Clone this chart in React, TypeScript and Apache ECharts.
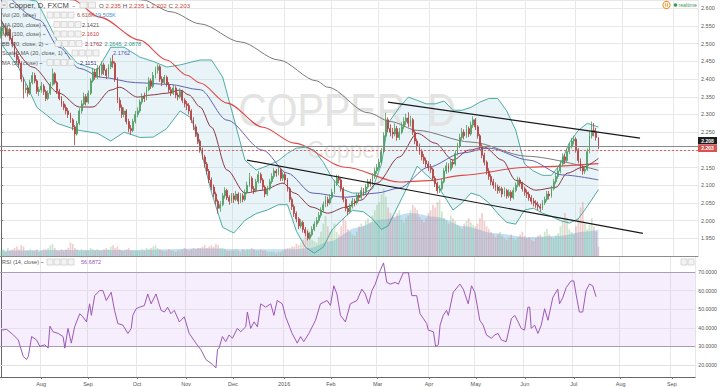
import React, { useEffect, useRef } from 'react';
import * as echarts from 'echarts';

type Candle = [number, number, number, number]; // open, close, low, high

// ---------- price data (daily candles) ----------
const jul15: Candle[] = [
  [2.525,2.535,2.515,2.548],[2.535,2.545,2.528,2.556],[2.545,2.525,2.518,2.552],[2.525,2.540,2.520,2.550],
  [2.540,2.515,2.508,2.545],[2.515,2.500,2.490,2.522],[2.500,2.470,2.462,2.505],[2.470,2.455,2.445,2.480],
  [2.455,2.445,2.432,2.465],[2.445,2.400,2.392,2.450],[2.400,2.370,2.345,2.405],[2.370,2.375,2.360,2.388],
  [2.375,2.360,2.350,2.382],[2.360,2.390,2.355,2.398],[2.390,2.410,2.385,2.420],[2.410,2.395,2.388,2.418],
  [2.395,2.365,2.358,2.400],[2.365,2.370,2.352,2.378],
];
const aug15: Candle[] = [
  [2.370,2.380,2.362,2.392],[2.380,2.365,2.355,2.386],[2.365,2.345,2.338,2.370],[2.345,2.360,2.340,2.368],
  [2.360,2.385,2.355,2.392],[2.385,2.415,2.380,2.430],[2.415,2.390,2.385,2.420],[2.390,2.365,2.358,2.395],
  [2.365,2.345,2.340,2.372],[2.345,2.330,2.322,2.352],[2.330,2.320,2.312,2.338],[2.320,2.310,2.300,2.328],
  [2.310,2.300,2.290,2.318],[2.300,2.285,2.276,2.305],[2.285,2.265,2.255,2.290],[2.265,2.245,2.213,2.270],
  [2.245,2.275,2.240,2.282],[2.275,2.310,2.270,2.318],[2.310,2.330,2.302,2.340],[2.330,2.350,2.325,2.362],
  [2.350,2.335,2.325,2.358],
];
const sep15: Candle[] = [
  [2.335,2.360,2.330,2.368],[2.360,2.395,2.355,2.402],[2.395,2.420,2.390,2.432],[2.420,2.405,2.398,2.428],
  [2.405,2.430,2.400,2.440],[2.430,2.415,2.405,2.438],[2.415,2.440,2.410,2.450],[2.440,2.425,2.412,2.446],
  [2.425,2.410,2.400,2.430],[2.410,2.435,2.405,2.442],[2.435,2.450,2.428,2.460],[2.450,2.445,2.432,2.468],
  [2.445,2.400,2.392,2.450],[2.400,2.340,2.332,2.405],[2.340,2.320,2.310,2.348],[2.320,2.300,2.290,2.328],
  [2.300,2.310,2.292,2.320],[2.310,2.280,2.272,2.315],[2.280,2.260,2.250,2.288],[2.260,2.255,2.243,2.270],
  [2.255,2.280,2.250,2.288],[2.280,2.300,2.274,2.310],
];
const oct15: Candle[] = [
  [2.300,2.310,2.292,2.320],[2.310,2.335,2.305,2.342],[2.335,2.350,2.328,2.360],[2.350,2.345,2.335,2.362],
  [2.345,2.370,2.340,2.378],[2.370,2.395,2.365,2.405],[2.395,2.380,2.372,2.402],[2.380,2.410,2.375,2.420],
  [2.410,2.425,2.402,2.435],[2.425,2.435,2.415,2.442],[2.435,2.400,2.392,2.440],[2.400,2.390,2.380,2.408],
  [2.390,2.405,2.385,2.412],[2.405,2.385,2.378,2.410],[2.385,2.370,2.362,2.392],[2.370,2.360,2.352,2.378],
  [2.360,2.375,2.355,2.384],[2.375,2.355,2.346,2.380],[2.355,2.350,2.340,2.362],[2.350,2.365,2.345,2.374],
  [2.365,2.340,2.332,2.370],[2.340,2.330,2.320,2.346],
];
const nov15: Candle[] = [
  [2.330,2.325,2.312,2.338],[2.325,2.310,2.300,2.332],[2.310,2.285,2.276,2.315],[2.285,2.265,2.256,2.292],
  [2.265,2.245,2.236,2.272],[2.245,2.225,2.216,2.250],[2.225,2.200,2.192,2.230],[2.200,2.180,2.172,2.206],
  [2.180,2.160,2.150,2.186],[2.160,2.140,2.130,2.166],[2.140,2.115,2.106,2.146],[2.115,2.095,2.086,2.122],
  [2.095,2.075,2.066,2.102],[2.075,2.055,2.045,2.082],[2.055,2.035,2.020,2.060],[2.035,2.045,2.025,2.055],
  [2.045,2.070,2.040,2.078],[2.070,2.085,2.062,2.094],[2.085,2.065,2.058,2.090],[2.065,2.055,2.045,2.072],
  [2.055,2.070,2.050,2.078],
];
const dec15: Candle[] = [
  [2.070,2.060,2.050,2.078],[2.060,2.075,2.055,2.084],[2.075,2.055,2.046,2.080],[2.055,2.070,2.050,2.078],
  [2.070,2.060,2.052,2.077],[2.060,2.080,2.055,2.088],[2.080,2.100,2.075,2.110],[2.100,2.120,2.095,2.135],
  [2.120,2.090,2.082,2.125],[2.090,2.085,2.075,2.098],[2.085,2.110,2.080,2.118],[2.110,2.130,2.105,2.140],
  [2.130,2.115,2.106,2.136],[2.115,2.095,2.086,2.120],[2.095,2.075,2.066,2.100],[2.075,2.090,2.070,2.098],
  [2.090,2.110,2.085,2.118],[2.110,2.125,2.104,2.134],[2.125,2.140,2.118,2.148],[2.140,2.135,2.124,2.146],
  [2.135,2.145,2.128,2.152],[2.145,2.120,2.112,2.150],[2.120,2.130,2.112,2.138],
];
const jan16: Candle[] = [
  [2.130,2.115,2.104,2.136],[2.115,2.090,2.082,2.120],[2.090,2.060,2.052,2.095],[2.060,2.040,2.030,2.066],
  [2.040,2.020,2.010,2.046],[2.020,2.005,1.995,2.026],[2.005,1.985,1.976,2.010],[1.985,1.995,1.978,2.004],
  [1.995,1.975,1.966,2.000],[1.975,1.965,1.955,1.982],[1.965,1.950,1.944,1.972],[1.950,1.960,1.946,1.968],
  [1.960,1.975,1.955,1.984],[1.975,1.990,1.970,1.998],[1.990,2.000,1.982,2.010],[2.000,2.015,1.994,2.024],
  [2.015,2.030,2.008,2.038],[2.030,2.045,2.024,2.054],[2.045,2.060,2.038,2.070],[2.060,2.050,2.040,2.068],
  [2.050,2.065,2.045,2.074],
];
const feb16: Candle[] = [
  [2.065,2.080,2.060,2.090],[2.080,2.105,2.075,2.115],[2.105,2.120,2.098,2.130],[2.120,2.115,2.105,2.128],
  [2.115,2.090,2.082,2.120],[2.090,2.060,2.052,2.095],[2.060,2.035,2.026,2.066],[2.035,2.025,2.015,2.042],
  [2.025,2.040,2.020,2.048],[2.040,2.055,2.034,2.064],[2.055,2.050,2.040,2.062],[2.050,2.070,2.045,2.078],
  [2.070,2.065,2.056,2.078],[2.065,2.085,2.060,2.094],[2.085,2.080,2.070,2.092],[2.080,2.095,2.074,2.104],
  [2.095,2.110,2.090,2.118],[2.110,2.105,2.096,2.118],[2.105,2.125,2.100,2.134],[2.125,2.140,2.118,2.150],
  [2.140,2.150,2.132,2.160],
];
const mar16: Candle[] = [
  [2.150,2.165,2.144,2.175],[2.165,2.195,2.160,2.205],[2.195,2.240,2.190,2.250],[2.240,2.285,2.235,2.305],
  [2.285,2.260,2.250,2.292],[2.260,2.250,2.238,2.272],[2.250,2.245,2.232,2.262],[2.245,2.260,2.238,2.275],
  [2.260,2.235,2.226,2.268],[2.235,2.250,2.228,2.262],[2.250,2.265,2.244,2.278],[2.265,2.280,2.258,2.292],
  [2.280,2.290,2.270,2.302],[2.290,2.275,2.264,2.306],[2.275,2.285,2.266,2.296],[2.285,2.250,2.242,2.290],
  [2.250,2.225,2.216,2.256],[2.225,2.210,2.200,2.232],[2.210,2.195,2.186,2.218],[2.195,2.180,2.170,2.202],
  [2.180,2.170,2.160,2.188],[2.170,2.160,2.150,2.178],[2.160,2.150,2.140,2.168],
];
const apr16: Candle[] = [
  [2.150,2.145,2.134,2.160],[2.145,2.120,2.112,2.150],[2.120,2.105,2.095,2.126],[2.105,2.085,2.076,2.110],
  [2.085,2.090,2.078,2.100],[2.090,2.110,2.085,2.118],[2.110,2.140,2.105,2.148],[2.140,2.155,2.132,2.165],
  [2.155,2.145,2.136,2.162],[2.145,2.165,2.140,2.174],[2.165,2.160,2.150,2.172],[2.160,2.190,2.155,2.198],
  [2.190,2.210,2.184,2.220],[2.210,2.235,2.205,2.245],[2.235,2.250,2.228,2.262],[2.250,2.240,2.230,2.258],
  [2.240,2.260,2.234,2.270],[2.260,2.245,2.236,2.266],[2.245,2.270,2.240,2.280],[2.270,2.285,2.262,2.295],
  [2.285,2.265,2.256,2.290],
];
const may16: Candle[] = [
  [2.265,2.240,2.232,2.270],[2.240,2.210,2.202,2.245],[2.210,2.185,2.176,2.216],[2.185,2.165,2.156,2.192],
  [2.165,2.140,2.130,2.170],[2.140,2.125,2.115,2.148],[2.125,2.110,2.100,2.132],[2.110,2.100,2.090,2.118],
  [2.100,2.095,2.084,2.108],[2.095,2.085,2.076,2.102],[2.085,2.090,2.078,2.098],[2.090,2.075,2.066,2.096],
  [2.075,2.085,2.068,2.094],[2.085,2.070,2.062,2.090],[2.070,2.080,2.064,2.088],[2.080,2.065,2.056,2.086],
  [2.065,2.085,2.060,2.094],[2.085,2.100,2.080,2.108],[2.100,2.115,2.094,2.124],[2.115,2.105,2.096,2.122],
  [2.105,2.090,2.082,2.110],[2.090,2.080,2.070,2.096],
];
const jun16: Candle[] = [
  [2.080,2.075,2.064,2.088],[2.075,2.065,2.056,2.082],[2.065,2.055,2.046,2.072],[2.055,2.050,2.040,2.064],
  [2.050,2.045,2.036,2.058],[2.045,2.040,2.030,2.054],[2.040,2.035,2.025,2.048],[2.035,2.050,2.030,2.058],
  [2.050,2.060,2.044,2.068],[2.060,2.075,2.054,2.084],[2.075,2.070,2.060,2.084],[2.070,2.090,2.065,2.098],
  [2.090,2.110,2.085,2.118],[2.110,2.125,2.104,2.134],[2.125,2.140,2.118,2.150],[2.140,2.160,2.134,2.170],
  [2.160,2.180,2.154,2.190],[2.180,2.170,2.160,2.188],[2.170,2.195,2.165,2.204],[2.195,2.210,2.188,2.220],
  [2.210,2.225,2.204,2.234],[2.225,2.230,2.215,2.240],
];
const jul16: Candle[] = [
  [2.230,2.200,2.192,2.236],[2.200,2.170,2.162,2.205],[2.170,2.150,2.140,2.176],[2.150,2.140,2.130,2.156],
  [2.140,2.145,2.132,2.154],[2.145,2.195,2.140,2.204],[2.195,2.240,2.190,2.252],[2.240,2.255,2.232,2.280],
  [2.255,2.250,2.238,2.276],[2.250,2.235,2.226,2.262],[2.235,2.203,2.202,2.235],
];
const candles: Candle[] = [
  ...jul15, ...aug15, ...sep15, ...oct15, ...nov15, ...dec15,
  ...jan16, ...feb16, ...mar16, ...apr16, ...may16, ...jun16, ...jul16,
];

// ---------- volume (thousands) ----------
const volJul15 = [4,5,3,6,4,5,6,7,5,8,7,4,4,5,4,4,5,3];
const volAug15 = [4,5,5,6,8,9,6,4,4,5,4,5,6,10,9,6,5,4,5,4,4];
const volSep15 = [4,6,5,4,5,4,4,5,6,5,7,8,6,7,5,4,4,5,6,4,4,4];
const volOct15 = [4,4,5,4,6,5,6,7,8,6,5,4,4,4,5,4,4,3,4,4,5,6];
const volNov15 = [5,4,5,6,5,6,6,7,8,6,7,8,7,9,8,6,6,5,4,4,4];
const volDec15 = [4,5,4,3,5,4,5,5,6,5,4,4,5,4,4,3,3,3,3,2,3,3,4];
const volJan16 = [5,6,6,7,7,9,8,10,12,14,20,18,12,11,10,14,18,24,30,22,18];
const volFeb16 = [20,24,18,16,22,28,26,20,18,16,15,18,22,24,22,26,28,25,30,34,38];
const volMar16 = [40,46,50,44,36,32,30,28,32,34,27,25,28,30,34,38,36,34,29,27,25,28,32];
const volApr16 = [34,38,36,40,42,33,28,26,24,30,28,26,23,22,20,24,26,28,25,23,22];
const volMay16 = [24,28,32,26,22,20,18,16,14,16,18,15,13,12,14,16,13,12,14,16,18,15];
const volJun16 = [13,14,12,11,13,15,16,14,18,20,16,14,13,15,17,22,26,32,28,20,18,16];
const volJul16 = [22,28,36,40,24,20,23,28,22,18,7];
const volumes = [
  ...volJul15, ...volAug15, ...volSep15, ...volOct15, ...volNov15, ...volDec15,
  ...volJan16, ...volFeb16, ...volMar16, ...volApr16, ...volMay16, ...volJun16, ...volJul16,
];
const volMA: number[][] = [[0,4],[30,4.5],[60,4.5],[90,5.5],[110,5],[130,5],[138,6],[147,11],[159,21],[170,27],[183,32],[195,29],[207,22],[220,17],[235,14],[250,15],[260,18],[267,19.5]];

// ---------- indicators (bar index, value) ----------
const ma200: number[][] = [[40,2.70],[63,2.624],[76,2.59],[89,2.556],[107,2.505],[124,2.454],[141,2.395],[146,2.377],[164,2.305],[174,2.28],[186,2.255],[210,2.222],[235,2.182],[267,2.142]];
const ma100: number[][] = [[20,2.66],[32,2.624],[44,2.575],[62,2.51],[74,2.454],[83,2.411],[89,2.389],[101,2.332],[117,2.264],[131,2.219],[154,2.151],[178,2.109],[191,2.113],[206,2.128],[235,2.151],[267,2.161]];
const ma50: number[][] = [[0,2.66],[17,2.567],[26,2.49],[35,2.43],[45,2.405],[60,2.39],[75,2.385],[89,2.37],[101,2.284],[117,2.199],[128,2.134],[139,2.078],[154,2.066],[168,2.078],[178,2.092],[191,2.151],[206,2.191],[218,2.205],[236,2.171],[251,2.129],[267,2.115]];
const ma20: number[][] = [[0,2.567],[14,2.434],[26,2.36],[35,2.321],[41,2.321],[49,2.369],[53,2.377],[61,2.349],[67,2.355],[74,2.36],[80,2.369],[84,2.355],[89,2.321],[94,2.264],[101,2.143],[109,2.078],[117,2.086],[126,2.106],[131,2.078],[139,2.038],[146,2.021],[154,2.038],[161,2.058],[168,2.106],[178,2.18],[186,2.247],[194,2.219],[202,2.171],[209,2.199],[216,2.208],[224,2.171],[230,2.114],[239,2.086],[248,2.094],[253,2.134],[260,2.151],[267,2.176]];
const bbIdx = [0,8,16,25,34,43,49,55,62,68,74,80,85,89,94,99,104,109,114,119,124,128,132,136,140,144,148,152,157,162,166,170,173,178,182,186,190,194,198,202,206,210,214,218,222,226,230,234,238,242,246,250,254,258,262,267];
const bbUpper = [2.64,2.63,2.62,2.51,2.445,2.425,2.49,2.49,2.462,2.45,2.434,2.44,2.448,2.454,2.454,2.406,2.29,2.171,2.143,2.155,2.17,2.19,2.205,2.207,2.199,2.165,2.12,2.09,2.078,2.078,2.09,2.16,2.275,2.32,2.349,2.34,2.33,2.33,2.338,2.312,2.312,2.32,2.335,2.345,2.345,2.31,2.256,2.16,2.14,2.128,2.128,2.16,2.22,2.255,2.275,2.2645];
const bbLower = [2.50,2.43,2.32,2.275,2.256,2.247,2.225,2.25,2.235,2.236,2.26,2.31,2.29,2.208,2.08,1.981,1.965,2.001,2.02,2.03,2.045,2.045,1.97,1.925,1.908,1.925,1.975,2.0,2.029,2.025,2.005,1.975,1.985,2.049,2.10,2.154,2.13,2.108,2.07,2.03,2.05,2.078,2.07,2.05,2.02,1.995,1.99,2.03,2.035,2.021,2.012,2.0,1.993,2.005,2.04,2.0878];

const rsi: number[][] = [[0,38.8],[2.5,39.2],[5.5,36.2],[7.7,33.5],[9.9,24.7],[11.4,23.0],[12.2,24.7],[13.7,35.3],[15.9,33.5],[17.4,30.0],[19.6,30.9],[21.1,29.1],[21.9,40.9],[23.3,37.9],[25.6,37.0],[27.8,35.3],[28.6,29.1],[30.0,39.7],[31.5,31.8],[33.0,40.6],[35.3,47.6],[36.7,45.9],[38.3,43.2],[39.7,52.9],[40.5,46.7],[42.0,57.3],[44.2,60.0],[45.7,60.0],[47.2,54.7],[49.4,59.1],[50.9,49.4],[52.4,42.3],[54.6,41.5],[56.9,37.0],[58.4,39.7],[59.1,46.7],[60.6,50.3],[62.1,51.1],[64.3,52.0],[65.8,58.2],[67.3,52.9],[69.5,58.2],[71.8,49.4],[73.3,48.5],[74.7,51.1],[76.2,47.6],[77.7,49.4],[80.0,43.2],[82.2,45.9],[84.4,37.0],[87.4,31.8],[89.7,28.2],[91.9,23.0],[94.9,20.3],[96.4,18.5],[97.1,28.2],[97.8,29.1],[99.3,35.3],[100.8,32.6],[102.3,36.2],[103.8,34.4],[106.0,39.7],[107.5,37.9],[109.8,40.6],[110.5,48.5],[112.0,39.7],[113.5,43.2],[115.0,40.6],[116.5,52.9],[118.7,51.1],[121.0,52.9],[122.4,46.7],[123.9,54.7],[126.2,52.9],[127.7,45.9],[130.6,37.0],[132.9,31.8],[134.4,35.3],[135.8,32.6],[138.1,37.0],[141.1,44.1],[143.3,52.9],[146.3,54.7],[147.8,52.0],[149.3,62.6],[150.7,58.2],[152.3,46.7],[154.5,43.2],[156.7,52.9],[159.7,54.7],[161.9,60.8],[163.4,58.2],[164.9,52.9],[166.4,60.0],[167.9,63.5],[169.4,68.8],[171.6,74.9],[173.1,64.4],[174.6,63.5],[176.8,64.4],[178.3,63.5],[180.5,69.6],[182.8,69.6],[184.3,57.3],[186.5,57.3],[188.0,47.6],[189.5,45.0],[191.0,42.3],[191.7,38.8],[194.0,37.9],[195.0,30.0],[196.2,30.9],[197.0,41.5],[198.4,46.7],[199.9,49.4],[200.7,46.7],[202.9,59.1],[205.9,63.5],[207.4,60.8],[209.6,52.9],[211.1,62.6],[212.6,59.1],[214.8,44.1],[216.3,41.5],[217.8,36.2],[220.0,34.4],[221.5,36.2],[223.0,37.0],[224.5,33.5],[226.7,32.6],[229.0,45.0],[230.5,46.7],[232.0,43.2],[233.4,39.7],[234.9,38.8],[236.4,51.1],[237.2,51.1],[237.9,39.7],[239.4,41.5],[240.9,37.0],[242.4,41.5],[243.9,50.3],[245.4,44.1],[247.6,56.4],[249.8,60.8],[250.6,52.9],[252.1,56.4],[253.6,61.7],[255.8,65.2],[257.0,65.2],[258.0,58.2],[259.5,48.5],[261.0,48.5],[262.5,60.0],[264.0,63.5],[265.5,62.6],[267,56.7]];
const rsiBand = [30, 70];
const rsiTicks = [20, 30, 40, 50, 60, 70];

// trend lines drawn on the chart: [startIndex, startPrice, endIndex, endPrice]
const trendLines = [
  [172.9, 2.335, 285.6, 2.233],
  [109.9, 2.171, 286.9, 1.964],
];
const lastClose = 2.203;
const hLinePrice = 2.208;
const hiddenPriceLabel = 2.2; // covered by the price boxes in the reference

// ---------- categories ----------
const firstDay = '2015-07-08';
const lastDay = '2016-09-15';
const monthShort = ['Jan','Feb','Mar','Apr','May','Jun','Jul','Aug','Sep','Oct','Nov','Dec'];

// ---------- legend texts ----------
const titleText = 'Copper, D, FXCM';
const ohlc = [['O', '2.235'], ['H', '2.235'], ['L', '2.202'], ['C', '2.203']];
const legendRows = [
  { name: 'Vol (20, false)', values: [['6.618K', '#a8574f'], ['19.505K', '#3a8fd6']] },
  { name: 'MA (200, close) ~', values: [['2.1421', '#555555']] },
  { name: 'MA (100, close) ~', values: [['2.1610', '#d23c3c']] },
  { name: 'BB (20, close, 2) ~', values: [['2.1762', '#8e3b4e'], ['2.2645', '#2e9a8c'], ['2.0878', '#2e9a8c']] },
  { name: 'Scaled MA (20, close, 1) ~', values: [['2.1762', '#5a55b5']] },
  { name: 'MA (50, close) ~', values: [['2.1151', '#3a3a9a']] },
];
const rsiLegend = { name: 'RSI (14, close) ~', value: '56.6872' };

// ---------- layout / style ----------
const FONT = '"Liberation Sans", Arial, sans-serif';
const legendLayout = [
  { y: 15, boxX: 47, valX: [77, 95] },
  { y: 24.5, boxX: 54, valX: [82] },
  { y: 34, boxX: 54, valX: [82] },
  { y: 43.5, boxX: 55, valX: [85, 104.5, 124] },
  { y: 53, boxX: 72, valX: [113] },
  { y: 62.5, boxX: 47, valX: [80] },
];
const UP = '#4e9a5e';
const DOWN = '#b03c3c';

function buildDays(): string[] {
  const out: string[] = [];
  const d = new Date(firstDay + 'T00:00:00Z');
  const end = new Date(lastDay + 'T00:00:00Z');
  while (d.getTime() <= end.getTime()) {
    const wd = d.getUTCDay();
    if (wd !== 0 && wd !== 6) out.push(d.toISOString().slice(0, 10));
    d.setUTCDate(d.getUTCDate() + 1);
  }
  return out;
}

function txt(x: number, y: number, text: string, fill: string, size: number, extra: any = {}, z = 100, weight = '') {
  return {
    type: 'text', x, y, z, silent: true,
    style: { text, fill, font: `${weight ? weight + ' ' : ''}${size}px ${FONT}`, textVerticalAlign: 'middle', verticalAlign: 'middle', ...extra },
  };
}
function box(x: number, y: number, w = 6, h = 6) {
  return { type: 'rect', z: 100, silent: true, shape: { x, y, width: w, height: h }, style: { fill: '#f3f3f3', stroke: '#cfcfcf', lineWidth: 0.8 } };
}

function buildGraphics(yLast: number): any[] {
  const g: any[] = [];
  // watermark
  g.push({ type: 'text', x: 347, y: 110, z: 1, silent: true, scaleX: 0.86, style: { text: 'COPPER, D', fill: '#e3e3e3', font: `46px ${FONT}`, textAlign: 'center', align: 'center', textVerticalAlign: 'middle', verticalAlign: 'middle' } });
  g.push({ type: 'text', x: 345, y: 150, z: 1, silent: true, style: { text: 'Copper', fill: '#e3e3e3', font: `23px ${FONT}`, textAlign: 'center', align: 'center', textVerticalAlign: 'middle', verticalAlign: 'middle' } });
  // header
  g.push(box(1, 2, 6, 6));
  g.push({ type: 'line', z: 101, silent: true, shape: { x1: 2.5, y1: 5, x2: 5.5, y2: 5 }, style: { stroke: '#777', lineWidth: 0.8 } });
  g.push(txt(9, 5.5, titleText, '#444', 7.6));
  g.push(txt(72, 5.5, '~', '#888', 6));
  g.push(box(80, 2, 7, 6));
  g.push(box(88.5, 2, 7, 6));
  let rich = '';
  ohlc.forEach(([k, v], i) => { rich += `{k|${k}} {v|${v}}` + (i < ohlc.length - 1 ? ' ' : ''); });
  g.push({ type: 'text', x: 99, y: 5.5, z: 100, silent: true, style: { text: rich, font: `6.2px ${FONT}`, textVerticalAlign: 'middle', verticalAlign: 'middle', rich: { k: { fill: '#555', font: `6.2px ${FONT}` }, v: { fill: '#d24b3e', font: `6.2px ${FONT}` } } } });
  legendRows.forEach((row, r) => {
    const L = legendLayout[r];
    g.push(txt(2, L.y, row.name, '#555', 5.6));
    for (let b = 0; b < 4; b++) g.push(box(L.boxX + b * 7, L.y - 3, 6, 6));
    row.values.forEach(([v, c], k) => g.push(txt(L.valX[k], L.y, v, c, 5.6)));
  });
  // realtime indicator
  g.push({ type: 'circle', z: 100, silent: true, shape: { cx: 666.5, cy: 5, r: 3.6 }, style: { fill: '#fff', stroke: '#f0932b', lineWidth: 1.1 } });
  g.push({ type: 'rect', z: 101, silent: true, shape: { x: 665.2, y: 3.3, width: 0.9, height: 3.4 }, style: { fill: '#f0932b' } });
  g.push({ type: 'rect', z: 101, silent: true, shape: { x: 667, y: 3.3, width: 0.9, height: 3.4 }, style: { fill: '#f0932b' } });
  g.push({ type: 'circle', z: 100, silent: true, shape: { cx: 675.5, cy: 5, r: 1.8 }, style: { fill: '#2e9e4e' } });
  g.push(txt(678.5, 5.2, 'realtime', '#3b9a5a', 5.2));
  // RSI legend
  g.push(txt(2, 262, rsiLegend.name, '#555', 5.6));
  for (let b = 0; b < 4; b++) g.push(box(47 + b * 7, 259, 6, 6));
  g.push(txt(81, 262, rsiLegend.value, '#9b59b6', 5.6));
  g.push(box(681, 259, 6, 6));
  g.push(box(688, 259, 6, 6));
  // price boxes (red = last close, black = horizontal line level, stacked above it)
  const redC = yLast - 0.5;
  const blackC = redC - 7.6;
  const bh = 7.4;
  g.push({ type: 'rect', z: 110, silent: true, shape: { x: 698, y: blackC - bh / 2, width: 19, height: bh }, style: { fill: '#1e1e1e' } });
  g.push(txt(707.5, blackC, hLinePrice.toFixed(3), '#ffffff', 5, { textAlign: 'center', align: 'center' }, 120, 'bold'));
  g.push({ type: 'rect', z: 110, silent: true, shape: { x: 698, y: redC - bh / 2, width: 19, height: bh }, style: { fill: '#d9534f' } });
  g.push(txt(707.5, redC, lastClose.toFixed(3), '#ffffff', 5, { textAlign: 'center', align: 'center' }, 120, 'bold'));
  return g;
}

function buildOption() {
  const days = buildDays();
  const monthStart = new Set<number>();
  for (let i = 1; i < days.length; i++) {
    if (days[i].slice(5, 7) !== days[i - 1].slice(5, 7)) monthStart.add(i);
  }
  const isMonthStart = (i: number) => monthStart.has(i);
  const monthLabel = (v: string) => {
    const d = new Date(v + 'T00:00:00Z');
    const m = d.getUTCMonth();
    return m === 0 ? String(d.getUTCFullYear()) : monthShort[m];
  };
  const n = days.length;
  const bbUpperPts = bbIdx.map((x, k) => [x, bbUpper[k]]);
  const bbLowerPts = bbIdx.map((x, k) => [x, bbLower[k]]);
  const maLine = (pts: number[][], color: string, width = 1) => ({
    type: 'line', xAxisIndex: 2, yAxisIndex: 0, data: pts, symbol: 'none', smooth: 0.3, smoothMonotone: 'x',
    lineStyle: { color, width }, z: 3, silent: true,
  });

  return {
    animation: false,
    backgroundColor: '#ffffff',
    textStyle: { fontFamily: FONT },
    grid: [
      { left: 0, right: 22, top: 0, height: 256, show: false },
      { left: 0, right: 22, top: 256, height: 122, show: false },
    ],
    xAxis: [
      {
        type: 'category', gridIndex: 0, data: days, boundaryGap: true,
        axisLabel: { show: false }, axisTick: { show: false },
        axisLine: { show: true, lineStyle: { color: '#8c8c8c', width: 1 } },
        splitLine: { show: true, interval: isMonthStart, lineStyle: { color: '#e8e8e8', width: 1 } },
      },
      {
        type: 'category', gridIndex: 1, data: days, boundaryGap: true,
        axisLabel: { interval: isMonthStart, formatter: monthLabel, fontSize: 5.5, color: '#555', margin: 4, fontFamily: FONT },
        axisTick: { show: true, interval: isMonthStart, length: 2, alignWithLabel: true, lineStyle: { color: '#777' } },
        axisLine: { show: true, lineStyle: { color: '#666', width: 1 } },
        splitLine: { show: true, interval: isMonthStart, lineStyle: { color: '#e8e8e8', width: 1 } },
      },
      { type: 'value', gridIndex: 0, min: -0.5, max: n - 0.5, show: false },
      { type: 'value', gridIndex: 1, min: -0.5, max: n - 0.5, show: false },
    ],
    yAxis: [
      {
        type: 'value', gridIndex: 0, position: 'right', min: 1.9, max: 2.6235, interval: 0.05,
        axisLine: { show: true, lineStyle: { color: '#666', width: 1 } },
        axisTick: { show: true, length: 2, lineStyle: { color: '#777' } },
        axisLabel: {
          showMaxLabel: false, showMinLabel: false,
          formatter: (v: number) => (Math.abs(v - hiddenPriceLabel) < 1e-6 ? '' : v.toFixed(3)),
          fontSize: 5.5, color: '#555', margin: 3, fontFamily: FONT,
        },
        splitLine: { show: true, lineStyle: { color: '#e8e8e8', width: 1 } },
      },
      { type: 'value', gridIndex: 0, min: 0, max: 190, show: false },
      {
        type: 'value', gridIndex: 1, position: 'right', min: 13.6, max: 78.6,
        axisLine: { show: true, lineStyle: { color: '#666', width: 1 } },
        axisTick: { show: true, length: 2, customValues: rsiTicks, lineStyle: { color: '#777' } },
        axisLabel: { customValues: rsiTicks, formatter: (v: number) => v.toFixed(4), fontSize: 5.2, color: '#555', margin: 3, fontFamily: FONT },
        splitLine: { show: false },
      },
    ],
    series: [
      {
        type: 'line', xAxisIndex: 2, yAxisIndex: 1, data: volMA, symbol: 'none', smooth: 0.3, smoothMonotone: 'x',
        lineStyle: { width: 0 }, areaStyle: { color: 'rgba(95,172,226,0.55)', origin: 'start' }, z: 1, silent: true,
      },
      {
        type: 'bar', xAxisIndex: 0, yAxisIndex: 1, barWidth: '75%', z: 1, silent: true,
        data: volumes.map((v, i) => ({
          value: v,
          itemStyle: { color: candles[i][1] >= candles[i][0] ? 'rgba(120,185,120,0.36)' : 'rgba(215,120,120,0.36)' },
        })),
      },
      {
        type: 'custom', xAxisIndex: 2, yAxisIndex: 0, silent: true, z: 1, clip: true,
        data: [[0, 2]],
        renderItem: (_params: any, api: any) => {
          const pts = [...bbUpperPts, ...bbLowerPts.slice().reverse()].map((p) => api.coord(p));
          return { type: 'polygon', shape: { points: pts }, style: { fill: 'rgba(150,205,222,0.22)' } };
        },
      },
      { type: 'line', xAxisIndex: 2, yAxisIndex: 0, data: bbUpperPts, symbol: 'none', lineStyle: { color: '#3aa39a', width: 0.9 }, z: 2, silent: true },
      { type: 'line', xAxisIndex: 2, yAxisIndex: 0, data: bbLowerPts, symbol: 'none', lineStyle: { color: '#3aa39a', width: 0.9 }, z: 2, silent: true },
      maLine(ma200, '#7a7a7a', 1),
      maLine(ma100, '#e04848', 1.1),
      maLine(ma50, '#6262b2', 1),
      maLine(ma20, '#8c3646', 1),
      {
        type: 'candlestick', xAxisIndex: 0, yAxisIndex: 0, data: candles, barWidth: '62%', z: 4, silent: true,
        itemStyle: { color: UP, color0: DOWN, borderColor: UP, borderColor0: DOWN, borderWidth: 0.8 },
        markLine: {
          silent: true, symbol: ['none', 'none'], label: { show: false },
          data: [
            { yAxis: hLinePrice, lineStyle: { color: '#8a8a8a', type: 'solid', width: 1 } },
            { yAxis: lastClose, lineStyle: { color: '#e06666', type: [2, 2], width: 1 } },
          ],
        },
      },
      ...trendLines.map((t) => ({
        type: 'line', xAxisIndex: 2, yAxisIndex: 0, data: [[t[0], t[1]], [t[2], t[3]]], symbol: 'none',
        lineStyle: { color: '#1a1a1a', width: 1.2 }, z: 6, silent: true,
      })),
      {
        type: 'line', xAxisIndex: 3, yAxisIndex: 2, data: rsi, symbol: 'none', z: 5, silent: true,
        lineStyle: { color: '#9b59b6', width: 1 },
        markArea: { silent: true, itemStyle: { color: 'rgba(190,130,240,0.14)' }, data: [[{ yAxis: rsiBand[0] }, { yAxis: rsiBand[1] }]] },
        markLine: {
          silent: true, symbol: ['none', 'none'], label: { show: false },
          data: rsiTicks.map((v) => ({
            yAxis: v,
            lineStyle: { color: v === rsiBand[0] || v === rsiBand[1] ? '#a99fb3' : '#e4e0e8', type: 'solid', width: 1 },
          })),
        },
      },
    ],
  };
}

export default function App() {
  const ref = useRef<HTMLDivElement>(null);
  useEffect(() => {
    const el = ref.current;
    if (!el) return;
    const chart = echarts.init(el, undefined, { renderer: 'svg' });
    chart.setOption(buildOption() as any);
    const yLast = chart.convertToPixel({ yAxisIndex: 0 } as any, lastClose) as unknown as number;
    chart.setOption({ graphic: { elements: buildGraphics(yLast) } } as any);
    return () => chart.dispose();
  }, []);
  return <div ref={ref} style={{ position: 'fixed', left: 0, top: 0, width: 720, height: 387, background: '#fff' }} />;
}
